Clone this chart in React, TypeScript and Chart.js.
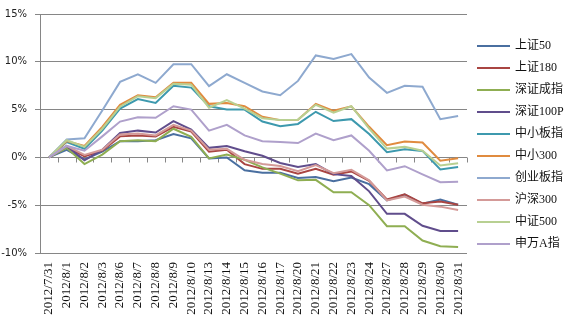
import React, { useEffect, useRef } from "react";
import { Chart, registerables } from "chart.js";

Chart.register(...registerables);

const categories = [
  "2012/7/31", "2012/8/1", "2012/8/2", "2012/8/3", "2012/8/6", "2012/8/7",
  "2012/8/8", "2012/8/9", "2012/8/10", "2012/8/13", "2012/8/14", "2012/8/15",
  "2012/8/16", "2012/8/17", "2012/8/20", "2012/8/21", "2012/8/22", "2012/8/23",
  "2012/8/24", "2012/8/27", "2012/8/28", "2012/8/29", "2012/8/30", "2012/8/31",
];

const seriesNames = [
  "上证50", "上证180", "深证成指", "深证100P", "中小板指",
  "中小300", "创业板指", "沪深300", "中证500", "申万A指",
];

const sz50 = [0, 0.8, -0.2, 0.6, 1.7, 1.7, 1.8, 2.45, 2.0, -0.1, 0.0, -1.35, -1.6, -1.6, -2.15, -2.05, -2.5, -2.1, -2.8, -4.5, -3.9, -4.85, -4.4, -4.95];
const sz180 = [0, 1.1, 0.1, 0.7, 2.2, 2.3, 2.2, 3.2, 2.7, 0.6, 0.8, -0.7, -1.2, -1.2, -1.7, -1.2, -1.8, -1.47, -2.45, -4.4, -3.85, -4.8, -4.62, -4.95];
const szcz = [0, 1.0, -0.7, 0.3, 1.7, 1.8, 1.7, 3.0, 2.15, -0.1, 0.3, -0.25, -1.05, -1.7, -2.4, -2.35, -3.65, -3.65, -5.0, -7.2, -7.2, -8.7, -9.3, -9.37];
const sz100p = [0, 1.2, -0.3, 0.8, 2.55, 2.8, 2.6, 3.8, 2.9, 1.0, 1.2, 0.65, 0.17, -0.58, -1.0, -0.7, -1.75, -1.95, -3.55, -5.9, -5.9, -7.15, -7.7, -7.7];
const zxbz = [0, 1.6, 0.9, 2.8, 5.1, 6.1, 5.7, 7.5, 7.3, 5.35, 5.0, 5.0, 3.75, 3.25, 3.5, 4.77, 3.8, 4.0, 2.45, 0.55, 0.85, 0.68, -1.26, -1.0];
const zx300 = [0, 1.7, 1.2, 3.2, 5.5, 6.5, 6.3, 7.8, 7.8, 5.6, 5.7, 5.35, 4.25, 3.9, 3.95, 5.6, 4.87, 5.35, 3.2, 1.27, 1.65, 1.55, -0.34, -0.1];
const cybz = [0, 1.87, 2.0, 4.9, 7.9, 8.7, 7.8, 9.75, 9.75, 7.45, 8.7, 7.8, 6.9, 6.5, 8.0, 10.67, 10.3, 10.8, 8.35, 6.75, 7.5, 7.4, 4.0, 4.33];
const hs300 = [0, 1.2, 0.25, 0.8, 2.4, 2.5, 2.3, 3.4, 2.8, 0.8, 0.9, -0.25, -0.7, -0.9, -1.45, -0.8, -1.65, -1.3, -2.4, -4.5, -4.1, -4.95, -5.15, -5.5];
const zz500 = [0, 1.8, 1.1, 3.0, 5.3, 6.4, 6.2, 7.7, 7.6, 5.2, 6.0, 5.1, 4.1, 3.9, 3.95, 5.5, 4.67, 5.35, 3.0, 0.92, 1.1, 0.7, -0.85, -0.6];
const swa = [0, 1.2, 0.7, 2.2, 3.75, 4.2, 4.15, 5.35, 5.0, 2.8, 3.4, 2.3, 1.7, 1.6, 1.5, 2.5, 1.8, 2.3, 0.7, -1.36, -0.92, -1.77, -2.6, -2.55];

const seriesValues = [sz50, sz180, szcz, sz100p, zxbz, zx300, cybz, hs300, zz500, swa];

const seriesColors = [
  "#4A6FA0", "#A94542", "#8FAE52", "#604D8C", "#3D99AE",
  "#E08B3F", "#8EA9CF", "#D49A98", "#B8D092", "#AFA0CB",
];

const yTicks = [-10, -5, 0, 5, 10, 15];

const GRID = "#868686";

const zeroTickPlugin = {
  id: "zeroTicks",
  beforeDatasetsDraw(chart: any) {
    const xs = chart.scales.x;
    const ys = chart.scales.y;
    const ctx = chart.ctx;
    const area = chart.chartArea;
    const n = categories.length;
    const y0 = Math.round(ys.getPixelForValue(0)) + 0.5;
    ctx.save();
    ctx.strokeStyle = GRID;
    ctx.lineWidth = 1;
    ctx.beginPath();
    for (let i = 0; i <= n; i++) {
      let x;
      if (i === 0) x = area.left;
      else if (i === n) x = area.right;
      else x = (xs.getPixelForValue(i - 1) + xs.getPixelForValue(i)) / 2;
      x = Math.round(x) + 0.5;
      ctx.moveTo(x, y0);
      ctx.lineTo(x, y0 + 5);
    }
    ctx.stroke();
    ctx.restore();
  },
};

const legendPlugin = {
  id: "sideLegend",
  afterDraw(chart: any) {
    const ctx = chart.ctx;
    const lx0 = 477;
    const lx1 = 510;
    const tx = 515;
    const y0 = 45.5;
    const dy = 22.1;
    ctx.save();
    ctx.font = '12px "Liberation Serif", "Noto Sans CJK SC", serif';
    ctx.textBaseline = "middle";
    ctx.textAlign = "left";
    chart.data.datasets.forEach((ds: any, i: number) => {
      const y = Math.round(y0 + i * dy);
      ctx.strokeStyle = ds.borderColor;
      ctx.lineWidth = 2;
      ctx.beginPath();
      ctx.moveTo(lx0, y);
      ctx.lineTo(lx1, y);
      ctx.stroke();
      ctx.fillStyle = "#111";
      ctx.fillText(ds.label, tx, y);
    });
    ctx.restore();
  },
};

export default function App() {
  const ref = useRef<HTMLCanvasElement>(null);

  useEffect(() => {
    if (!ref.current) return;
    const n = seriesNames.length;
    const chart = new Chart(ref.current, {
      type: "line",
      data: {
        labels: categories,
        datasets: seriesNames.map((name, i) => ({
          label: name,
          data: seriesValues[i],
          borderColor: seriesColors[i],
          backgroundColor: seriesColors[i],
          borderWidth: 2,
          pointRadius: 0,
          tension: 0,
          fill: false,
          order: n - i,
        })),
      },
      options: {
        animation: false,
        responsive: false,
        layout: { padding: { top: 10, right: 103, left: 0, bottom: 0 } },
        plugins: {
          legend: { display: false },
          tooltip: { enabled: false },
        },
        scales: {
          x: {
            type: "category",
            offset: true,
            grid: { display: false, drawTicks: false },
            border: { display: false },
            ticks: {
              autoSkip: false,
              maxRotation: 90,
              minRotation: 90,
              padding: 9,
              color: "#111",
              font: { family: "'Liberation Serif', serif", size: 13 },
            },
            afterFit: (s: any) => {
              s.height = 72;
            },
          },
          y: {
            min: -10,
            max: 15,
            afterBuildTicks: (s: any) => {
              s.ticks = yTicks.map((v) => ({ value: v }));
            },
            ticks: {
              padding: 8,
              color: "#222",
              font: { family: "'DejaVu Sans', sans-serif", size: 10 },
              callback: (v: any) => v + "%",
            },
            grid: { color: GRID, lineWidth: 1, tickLength: 5, drawTicks: true },
            border: { display: true, color: GRID, width: 1 },
            afterFit: (s: any) => {
              s.width = 40;
            },
          },
        },
      },
      plugins: [zeroTickPlugin, legendPlugin],
    });
    return () => chart.destroy();
  }, []);

  return (
    <div style={{ position: "absolute", left: 0, top: 0, width: 570, height: 325, background: "#fff" }}>
      <canvas ref={ref} width={570} height={325} />
    </div>
  );
}
